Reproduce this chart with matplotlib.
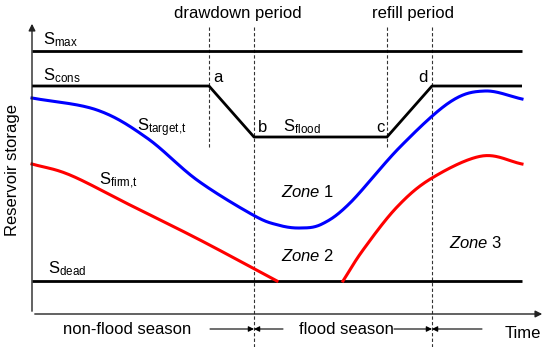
import numpy as np
import matplotlib.pyplot as plt

plt.rcParams['font.family'] = ['Liberation Sans', 'DejaVu Sans']
plt.rcParams['mathtext.fontset'] = 'custom'
plt.rcParams['mathtext.rm'] = 'Liberation Sans'
plt.rcParams['mathtext.it'] = 'Liberation Sans:italic'

# schematic drawn in pixel space of the original picture (y grows downward)
s_max = 51
s_cons = 86
s_flood = 137
s_dead = 281
x_start, x_end = 32, 522
x_a, x_b, x_c, x_d = 209, 254, 387, 432

target_x = [32, 97, 147, 197, 253, 278, 300, 322, 350, 400, 450, 485, 522]
target_y = [98, 110, 138, 180, 215, 225, 228, 224, 203, 147, 102, 91, 99]

firm1_x = [32, 70, 130, 200, 277]
firm1_y = [164, 175, 205, 240, 281]
firm2_x = [343, 363, 397, 432, 482, 522]
firm2_y = [281, 250, 207, 178, 156, 164]


def smooth(xs, ys, n=40):
    # Catmull-Rom curve through the read points
    p = np.column_stack([xs, ys]).astype(float)
    p = np.vstack([2 * p[0] - p[1], p, 2 * p[-1] - p[-2]])
    out = []
    t = np.linspace(0, 1, n, endpoint=False)[:, None]
    for i in range(1, len(p) - 2):
        p0, p1, p2, p3 = p[i - 1], p[i], p[i + 1], p[i + 2]
        seg = 0.5 * ((2 * p1) + (-p0 + p2) * t + (2 * p0 - 5 * p1 + 4 * p2 - p3) * t ** 2
                     + (-p0 + 3 * p1 - 3 * p2 + p3) * t ** 3)
        out.append(seg)
    out.append(p[-2][None, :])
    out = np.vstack(out)
    return out[:, 0], out[:, 1]


fig = plt.figure(figsize=(5.5, 3.47), dpi=100)
ax = fig.add_axes([0, 0, 1, 1])
ax.set_xlim(0, 550)
ax.set_ylim(347, 0)
ax.axis('off')

# axes with arrows
ax.annotate('', xy=(32, 21), xytext=(32, 314),
            arrowprops=dict(arrowstyle='-|>', color='#222222', lw=1, mutation_scale=10))
ax.annotate('', xy=(545, 314), xytext=(32, 314),
            arrowprops=dict(arrowstyle='-|>', color='#222222', lw=1, mutation_scale=10))

# dashed period lines
for xv, y0, y1 in [(x_a, 27, 148), (x_b, 27, 347), (x_c, 27, 148), (x_d, 27, 347)]:
    ax.plot([xv, xv], [y0, y1], color='#333333', lw=0.8, ls=(0, (3, 2)))

lw = 2.0
ax.plot([x_start, x_end], [s_max, s_max], color='black', lw=lw, solid_capstyle='butt')
ax.plot([x_start, x_a, x_b, x_c, x_d, x_end], [s_cons, s_cons, s_flood, s_flood, s_cons, s_cons],
        color='black', lw=lw, solid_capstyle='butt')
ax.plot([x_start, x_end], [s_dead, s_dead], color='black', lw=lw, solid_capstyle='butt')

bx, by = smooth(target_x, target_y)
ax.plot(bx, by, color='#0000ff', lw=2.2)
rx, ry = smooth(firm1_x, firm1_y)
ax.plot(rx, ry, color='#ff0000', lw=2.2)
rx, ry = smooth(firm2_x, firm2_y)
ax.plot(rx, ry, color='#ff0000', lw=2.2)

fs = 12
ax.text(43, 44, r'S$_{\mathregular{max}}$', fontsize=fs, va='baseline')
ax.text(43, 80, r'S$_{\mathregular{cons}}$', fontsize=fs, va='baseline')
ax.text(48, 273, r'S$_{\mathregular{dead}}$', fontsize=fs, va='baseline')
ax.text(137, 131, r'S$_{\mathregular{target{,}t}}$', fontsize=fs, va='baseline')
ax.text(283, 131, r'S$_{\mathregular{flood}}$', fontsize=fs, va='baseline')
ax.text(99, 185, r'S$_{\mathregular{firm{,}t}}$', fontsize=fs, va='baseline')

ax.text(213, 82, 'a', fontsize=fs, va='baseline')
ax.text(258, 132, 'b', fontsize=fs, va='baseline')
ax.text(376, 132, 'c', fontsize=fs, va='baseline')
ax.text(418, 82, 'd', fontsize=fs, va='baseline')

ax.text(281, 197, r'$\mathit{Zone}$ 1', fontsize=fs, va='baseline')
ax.text(281, 261, r'$\mathit{Zone}$ 2', fontsize=fs, va='baseline')
ax.text(449, 248, r'$\mathit{Zone}$ 3', fontsize=fs, va='baseline')

ax.text(238, 18, 'drawdown period', fontsize=fs, ha='center', va='baseline')
ax.text(413, 18, 'refill period', fontsize=fs, ha='center', va='baseline')
ax.text(13, 170, 'Reservoir storage', fontsize=fs, rotation=90, ha='center', va='center')

ax.text(127, 334, 'non-flood season', fontsize=fs, ha='center', va='baseline')
ax.text(346, 334, 'flood season', fontsize=fs, ha='center', va='baseline')
ax.text(505, 338, 'Time', fontsize=fs, va='baseline')

# season arrows
arr = dict(arrowstyle='-|>', color='black', lw=0.8, mutation_scale=8, shrinkA=0, shrinkB=0)
ax.annotate('', xy=(x_b, 329), xytext=(210, 329), arrowprops=arr)
ax.annotate('', xy=(x_b, 329), xytext=(283, 329), arrowprops=arr)
ax.annotate('', xy=(x_d, 329), xytext=(394, 329), arrowprops=arr)
ax.annotate('', xy=(x_d, 329), xytext=(482, 329), arrowprops=arr)

fig.savefig('out.png', dpi=100)
